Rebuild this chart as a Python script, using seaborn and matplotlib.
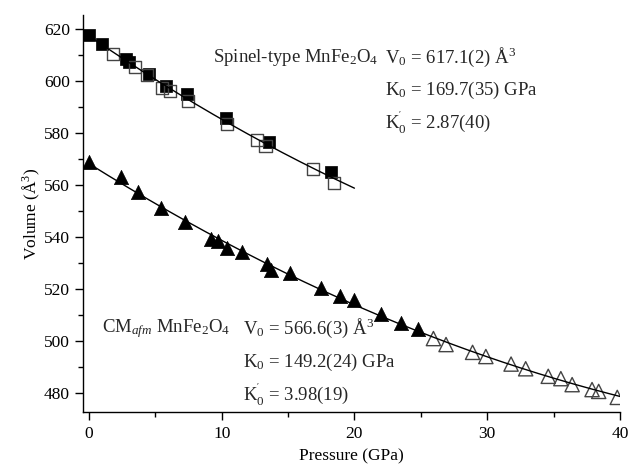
import numpy as np
import pandas as pd
import matplotlib
matplotlib.use("Agg")
import matplotlib.pyplot as plt
import seaborn as sns

# Spinel-type MnFe2O4: filled = run 1, open = run 2
spinel_p_filled = [0.0, 0.96, 2.8, 3.0, 4.5, 5.8, 7.35, 10.35, 13.6, 18.2]
spinel_v_filled = [617.7, 614.2, 608.4, 607.4, 602.9, 598.1, 595.2, 585.9, 576.5, 565.0]
spinel_p_open = [1.8, 3.5, 4.4, 5.5, 6.1, 7.45, 10.4, 12.65, 13.3, 16.9, 18.45]
spinel_v_open = [610.6, 605.5, 602.3, 597.5, 596.2, 592.2, 583.6, 577.2, 574.9, 566.3, 560.9]

# CM_afm MnFe2O4: filled = compression below 25 GPa, open = above
cm_p_filled = [0.0, 2.4, 3.7, 5.4, 7.2, 9.2, 9.75, 10.4, 11.5, 13.4, 13.7, 15.15,
               17.45, 18.95, 20.0, 22.0, 23.5, 24.8]
cm_v_filled = [569.0, 563.0, 557.3, 551.2, 545.7, 539.5, 538.6, 535.8, 534.4, 529.6, 527.4, 526.4,
               520.6, 517.4, 516.1, 510.6, 507.1, 504.6]
cm_p_open = [25.95, 26.9, 28.9, 29.9, 31.8, 32.9, 34.6, 35.55, 36.4, 37.9, 38.4, 39.8]
cm_v_open = [501.1, 498.8, 495.8, 494.2, 491.3, 489.5, 486.6, 485.7, 483.4, 481.5, 480.8, 478.5]

x_ticks = [0, 10, 20, 30, 40]
y_ticks = [480, 500, 520, 540, 560, 580, 600, 620]

sns.set_style("ticks")
plt.rcParams["font.family"] = ["Liberation Serif", "DejaVu Serif"]
plt.rcParams["mathtext.fontset"] = "custom"
plt.rcParams["mathtext.rm"] = "Liberation Serif"
plt.rcParams["mathtext.it"] = "Liberation Serif:italic"
plt.rcParams["mathtext.bf"] = "Liberation Serif:bold"

fig = plt.figure(figsize=(6.3, 4.69), dpi=100)
ax = fig.add_axes([0.1317, 0.1205, 0.8523, 0.8475])

# quadratic fits through each phase's data for the guide curves
sp_p = np.array(spinel_p_filled + spinel_p_open)
sp_v = np.array(spinel_v_filled + spinel_v_open)
cm_p = np.array(cm_p_filled + cm_p_open)
cm_v = np.array(cm_v_filled + cm_v_open)
sp_fit = np.polyfit(sp_p, sp_v, 2)
cm_fit = np.polyfit(cm_p, cm_v, 2)
sp_grid = np.linspace(0, 20, 200)
cm_grid = np.linspace(0, 40, 300)
fits = pd.DataFrame({
    "P": np.concatenate([sp_grid, cm_grid]),
    "V": np.concatenate([np.polyval(sp_fit, sp_grid), np.polyval(cm_fit, cm_grid)]),
    "phase": ["spinel"] * len(sp_grid) + ["cm"] * len(cm_grid),
})

sns.scatterplot(x=spinel_p_filled, y=spinel_v_filled, marker="s", s=75,
                color="black", edgecolor="black", linewidth=0.5, ax=ax, zorder=3)
sns.scatterplot(x=spinel_p_open, y=spinel_v_open, marker="s", s=75,
                facecolor="none", edgecolor="#444444", linewidth=1.0, ax=ax, zorder=3)
sns.scatterplot(x=cm_p_filled, y=cm_v_filled, marker="^", s=105,
                color="black", edgecolor="black", linewidth=0.5, ax=ax, zorder=3)
sns.scatterplot(x=cm_p_open, y=cm_v_open, marker="^", s=105,
                facecolor="none", edgecolor="#444444", linewidth=1.0, ax=ax, zorder=3)
sns.lineplot(data=fits, x="P", y="V", units="phase", estimator=None,
             color="black", linewidth=1.0, ax=ax, zorder=4, sort=False)

ax.set_xlim(-0.45, 40.0)
ax.set_ylim(472.7, 625.4)
ax.set_xticks(x_ticks)
ax.set_yticks(y_ticks)
ax.set_xticks([5, 15, 25, 35], minor=True)
ax.set_yticks([490, 510, 530, 550, 570, 590, 610], minor=True)
ax.tick_params(axis="both", which="major", direction="out", length=6, width=1,
               labelsize=12.5, color="black", labelcolor="black")
ax.tick_params(axis="both", which="minor", direction="out", length=3.5, width=1,
               color="black")
sns.despine(ax=ax)
for s in ("left", "bottom"):
    ax.spines[s].set_color("black")
    ax.spines[s].set_linewidth(1.0)

ax.set_xlabel("Pressure (GPa)", fontsize=12.5, color="black", labelpad=5)
ax.set_ylabel("Volume (Å$^3$)", fontsize=12.5, color="black", labelpad=1)

fs = 13.5
ax.text(9.36, 609.2, "Spinel-type MnFe$_2$O$_4$", fontsize=fs, va="center", ha="left")
ax.text(22.3, 609.2, "V$_0$ = 617.1(2) Å$^3$", fontsize=fs, va="center", ha="left")
ax.text(22.3, 596.5, "K$_0$ = 169.7(35) GPa", fontsize=fs, va="center", ha="left")
ax.text(22.3, 584.1, "K$_0^{'}$ = 2.87(40)", fontsize=fs, va="center", ha="left")

ax.text(1.0, 505.1, "CM$_{afm}$ MnFe$_2$O$_4$", fontsize=fs, va="center", ha="left")
ax.text(11.6, 505.1, "V$_0$ = 566.6(3) Å$^3$", fontsize=fs, va="center", ha="left")
ax.text(11.6, 492.0, "K$_0$ = 149.2(24) GPa", fontsize=fs, va="center", ha="left")
ax.text(11.6, 479.6, "K$_0^{'}$ = 3.98(19)", fontsize=fs, va="center", ha="left")

fig.savefig("out.png", dpi=100)
